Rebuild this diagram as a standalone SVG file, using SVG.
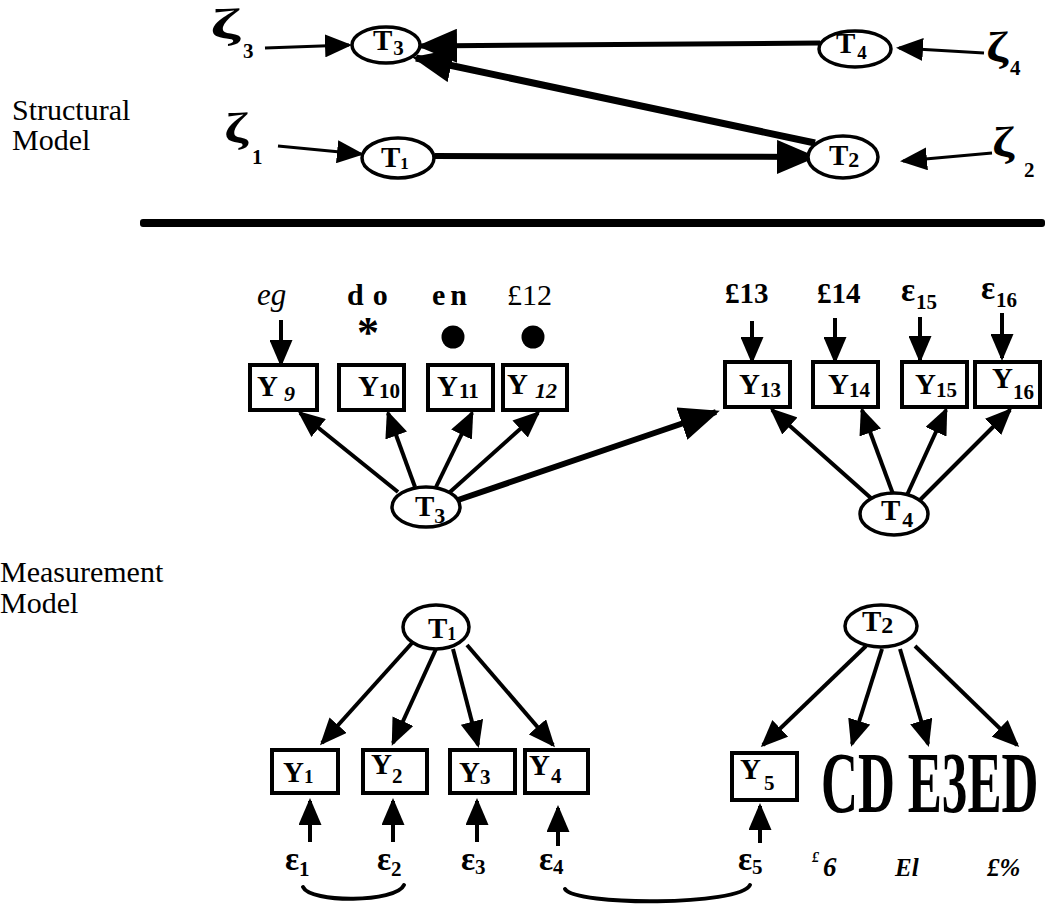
<svg xmlns="http://www.w3.org/2000/svg" width="1045" height="905" viewBox="0 0 1045 905">
  <defs>
    <style>
      .ser { font-family: "Liberation Serif", "Times New Roman", serif; fill: #000; }
      .b { font-weight: bold; }
      .i { font-style: italic; }
      .lbl { font-size: 30px; }
      .node { fill: #fff; stroke: #000; stroke-width: 3.5; }
      .box { fill: #fff; stroke: #000; stroke-width: 4; }
      .ln { fill: none; stroke: #000; stroke-width: 4; }
      .thin { fill: none; stroke: #000; stroke-width: 3; }
      .thick { fill: none; stroke: #000; stroke-width: 6; }
      .cv { fill: none; stroke: #000; stroke-width: 4; stroke-linecap: round; }
      .nm { font-size: 29px; font-weight: bold; }
      .sub { font-size: 21px; font-weight: bold; }
      .eps { font-size: 33px; font-weight: bold; }
      .zeta { font-size: 42px; font-weight: bold; }
    </style>
    <marker id="ah" markerUnits="userSpaceOnUse" markerWidth="27" markerHeight="23" viewBox="0 0 27 23" refX="24" refY="11.5" orient="auto">
      <path d="M0,0 L27,11.5 L0,23 z" fill="#000"/>
    </marker>
    <marker id="big" markerUnits="userSpaceOnUse" markerWidth="40" markerHeight="34" viewBox="0 0 40 34" refX="36" refY="17" orient="auto">
      <path d="M0,0 L40,17 L0,34 z" fill="#000"/>
    </marker>
  </defs>
  <rect width="1045" height="905" fill="#fff"/>

  <!-- section captions -->
  <g id="captions" class="ser lbl">
    <text x="12" y="120">Structural</text>
    <text x="12" y="150">Model</text>
    <text x="0" y="582">Measurement</text>
    <text x="0" y="613">Model</text>
  </g>

  <!-- divider between structural and measurement parts -->
  <rect id="divider" x="140" y="219" width="905" height="8" rx="3" fill="#000"/>

  <!-- connectors -->
  <g id="connectors">
    <!-- structural model -->
    <line class="thin" x1="265" y1="48" x2="349" y2="45" marker-end="url(#ah)"/>
    <line class="thin" x1="278" y1="146" x2="361" y2="154" marker-end="url(#ah)"/>
    <line class="thin" x1="984" y1="53" x2="899" y2="48" marker-end="url(#ah)"/>
    <line class="thin" x1="992" y1="153" x2="903" y2="161" marker-end="url(#ah)"/>
    <line class="ln" x1="820" y1="43" x2="421" y2="46" style="stroke-width:5" marker-end="url(#big)"/>
    <line class="thick" x1="815" y1="143" x2="416" y2="58" style="stroke-width:7" marker-end="url(#big)"/>
    <line class="thick" x1="435" y1="156" x2="813" y2="157" marker-end="url(#big)"/>

    <!-- T3 / T4 indicators -->
    <line class="ln" x1="281" y1="320" x2="281" y2="364" marker-end="url(#ah)"/>
    <line class="ln" x1="752" y1="321" x2="752" y2="361" marker-end="url(#ah)"/>
    <line class="ln" x1="835" y1="318" x2="835" y2="361" marker-end="url(#ah)"/>
    <line class="ln" x1="920" y1="317" x2="920" y2="360" marker-end="url(#ah)"/>
    <line class="ln" x1="1002" y1="313" x2="1002" y2="358" marker-end="url(#ah)"/>
    <line class="ln" x1="398" y1="492" x2="300" y2="413" marker-end="url(#ah)"/>
    <line class="ln" x1="415" y1="487" x2="388" y2="413" marker-end="url(#ah)"/>
    <line class="ln" x1="436" y1="487" x2="472" y2="413" marker-end="url(#ah)"/>
    <line class="ln" x1="450" y1="492" x2="538" y2="413" marker-end="url(#ah)"/>
    <line class="thick" x1="458" y1="500" x2="716" y2="412" marker-end="url(#big)"/>
    <line class="ln" x1="872" y1="499" x2="772" y2="410" marker-end="url(#ah)"/>
    <line class="ln" x1="893" y1="494" x2="862" y2="410" marker-end="url(#ah)"/>
    <line class="ln" x1="907" y1="495" x2="946" y2="410" marker-end="url(#ah)"/>
    <line class="ln" x1="920" y1="500" x2="1010" y2="410" marker-end="url(#ah)"/>

    <!-- T1 / T2 indicators -->
    <line class="ln" x1="412" y1="643" x2="322" y2="743" marker-end="url(#ah)"/>
    <line class="ln" x1="436" y1="649" x2="393" y2="743" marker-end="url(#ah)"/>
    <line class="ln" x1="453" y1="649" x2="478" y2="745" marker-end="url(#ah)"/>
    <line class="ln" x1="467" y1="645" x2="553" y2="745" marker-end="url(#ah)"/>
    <line class="ln" x1="866" y1="646" x2="763" y2="745" marker-end="url(#ah)"/>
    <line class="ln" x1="882" y1="649" x2="852" y2="744" marker-end="url(#ah)"/>
    <line class="ln" x1="900" y1="649" x2="928" y2="744" marker-end="url(#ah)"/>
    <line class="ln" x1="915" y1="646" x2="1017" y2="745" marker-end="url(#ah)"/>

    <!-- error terms -->
    <line class="ln" x1="310" y1="842" x2="310" y2="801" marker-end="url(#ah)"/>
    <line class="ln" x1="393" y1="842" x2="393" y2="801" marker-end="url(#ah)"/>
    <line class="ln" x1="477" y1="842" x2="477" y2="801" marker-end="url(#ah)"/>
    <line class="ln" x1="558" y1="846" x2="558" y2="808" marker-end="url(#ah)"/>
    <line class="ln" x1="760" y1="843" x2="760" y2="806" marker-end="url(#ah)"/>

    <!-- correlated errors -->
    <path class="cv" d="M303,887 C310,903 396,903 404,885"/>
    <path class="cv" d="M565,889 C575,906 740,906 750,885"/>
  </g>

  <!-- structural model nodes -->
  <g id="zeta3" class="ser"><text class="zeta" x="210" y="38" textLength="30" lengthAdjust="spacingAndGlyphs">ζ</text><text x="243" y="58" class="sub">3</text></g>
  <g id="zeta1" class="ser"><text class="zeta" x="224" y="142" textLength="24" lengthAdjust="spacingAndGlyphs">ζ</text><text x="252" y="164" class="sub">1</text></g>
  <g id="zeta4" class="ser"><text class="zeta" x="986" y="61" textLength="22" lengthAdjust="spacingAndGlyphs">ζ</text><text x="1010" y="75" class="sub">4</text></g>
  <g id="zeta2" class="ser"><text class="zeta" x="992" y="156" textLength="22" lengthAdjust="spacingAndGlyphs">ζ</text><text x="1024" y="177" class="sub">2</text></g>

  <g id="sT3"><ellipse class="node" cx="386" cy="45" rx="34" ry="18"/><text class="ser nm" x="373" y="50" font-size="24">T<tspan class="sub" dx="1" dy="5" font-size="18">3</tspan></text></g>
  <g id="sT4"><ellipse class="node" cx="855" cy="49" rx="36" ry="18"/><text class="ser nm" x="836" y="53" font-size="26">T<tspan dx="2" dy="6" font-size="19">4</tspan></text></g>
  <g id="sT1"><ellipse class="node" cx="398" cy="158" rx="36" ry="20"/><text class="ser nm" x="381" y="167" font-size="25">T<tspan dy="2" font-size="17">1</tspan></text></g>
  <g id="sT2"><ellipse class="node" cx="843" cy="157" rx="35" ry="21"/><text class="ser nm" x="829" y="165" font-size="24">T<tspan dy="2" font-size="22">2</tspan></text></g>

  <!-- measurement model: T3 and T4 -->
  <g id="e9"><text class="ser i" x="257" y="305" font-size="31">eg</text></g>
  <g id="e10"><text class="ser b" x="347" y="305" font-size="30" letter-spacing="9">do</text><text class="ser b" x="357" y="347" font-size="44">*</text></g>
  <g id="e11"><text class="ser b" x="432" y="305" font-size="30" letter-spacing="5">en</text><circle cx="453" cy="337" r="11.5" fill="#000"/></g>
  <g id="e12"><text class="ser" x="507" y="305" font-size="30">£12</text><circle cx="533" cy="337" r="11.5" fill="#000"/></g>
  <g id="e13"><text class="ser b" x="725" y="303" font-size="29">£13</text></g>
  <g id="e14"><text class="ser b" x="817" y="303" font-size="29">£14</text></g>
  <g id="e15"><text class="ser eps" x="901" y="301">ε<tspan class="sub" dx="1" dy="8" font-size="23">15</tspan></text></g>
  <g id="e16"><text class="ser eps" x="981" y="299">ε<tspan class="sub" dx="1" dy="8" font-size="23">16</tspan></text></g>

  <g id="Y9"><rect class="box" x="250" y="365" width="67" height="45"/><text class="ser nm" x="257" y="396">Y<tspan class="i" dx="6" dy="5" font-size="22">9</tspan></text></g>
  <g id="Y10"><rect class="box" x="339" y="365" width="65" height="45"/><text class="ser nm" x="358" y="396">Y<tspan class="sub" dy="2">10</tspan></text></g>
  <g id="Y11"><rect class="box" x="428" y="365" width="65" height="45"/><text class="ser nm" x="437" y="396">Y<tspan class="sub" dx="1" dy="2">11</tspan></text></g>
  <g id="Y12"><rect class="box" x="503" y="365" width="64" height="45"/><text class="ser nm" x="507" y="394">Y<tspan class="i" dx="7" dy="4" font-size="22">12</tspan></text></g>
  <g id="Y13"><rect class="box" x="725" y="362" width="65" height="45"/><text class="ser nm" x="739" y="394">Y<tspan class="sub" dy="3">13</tspan></text></g>
  <g id="Y14"><rect class="box" x="813" y="362" width="65" height="45"/><text class="ser nm" x="828" y="394">Y<tspan class="sub" dy="3">14</tspan></text></g>
  <g id="Y15"><rect class="box" x="902" y="362" width="65" height="45"/><text class="ser nm" x="915" y="394">Y<tspan class="sub" dy="3">15</tspan></text></g>
  <g id="Y16"><rect class="box" x="975" y="362" width="65" height="45"/><text class="ser nm" x="992" y="388">Y<tspan class="sub" dy="11">16</tspan></text></g>

  <g id="mT3"><ellipse class="node" cx="426" cy="507" rx="34" ry="20"/><text class="ser nm" x="415" y="516" font-size="28">T<tspan dy="7" font-size="22">3</tspan></text></g>
  <g id="mT4"><ellipse class="node" cx="894" cy="514" rx="34" ry="21"/><text class="ser nm" x="881" y="520" font-size="28">T<tspan dx="2" dy="7" font-size="22">4</tspan></text></g>

  <!-- measurement model: T1 and T2 -->
  <g id="mT1"><ellipse class="node" cx="436" cy="627" rx="33" ry="22"/><text class="ser nm" x="428" y="638" font-size="26">T<tspan dy="2" font-size="18">1</tspan></text></g>
  <g id="mT2"><ellipse class="node" cx="881" cy="626" rx="36" ry="21"/><text class="ser nm" x="862" y="631" font-size="25">T<tspan dy="2" font-size="24">2</tspan></text></g>

  <g id="Y1"><rect class="box" x="272" y="750" width="66" height="43"/><text class="ser nm" x="283" y="782">Y<tspan dy="1" font-size="19">1</tspan></text></g>
  <g id="Y2"><rect class="box" x="363" y="750" width="64" height="43"/><text class="ser nm" x="371" y="774">Y<tspan class="sub" dy="9" font-size="24">2</tspan></text></g>
  <g id="Y3"><rect class="box" x="450" y="750" width="65" height="43"/><text class="ser nm" x="459" y="782">Y<tspan class="sub" dy="2" font-size="24">3</tspan></text></g>
  <g id="Y4"><rect class="box" x="525" y="750" width="63" height="43"/><text class="ser nm" x="529" y="775">Y<tspan class="sub" dx="1" dy="8">4</tspan></text></g>
  <g id="Y5"><rect class="box" x="732" y="753" width="65" height="47"/><text class="ser nm" x="740" y="779" font-size="25">Y<tspan class="sub" dx="3" dy="11">5</tspan></text></g>
  <!-- condensed heavy label row, squeezed horizontally -->
  <g id="Y6to8"><text class="ser b" font-size="86" transform="translate(821,812) scale(0.595,1)">CD E3ED</text></g>

  <g id="eps1"><text class="ser eps" x="285" y="870">ε<tspan class="sub" dy="6" font-size="25">1</tspan></text></g>
  <g id="eps2"><text class="ser eps" x="377" y="870">ε<tspan class="sub" dy="6" font-size="25">2</tspan></text></g>
  <g id="eps3"><text class="ser eps" x="461" y="870">ε<tspan class="sub" dy="4" font-size="25">3</tspan></text></g>
  <g id="eps4"><text class="ser eps" x="539" y="870">ε<tspan class="sub" dy="4" font-size="23">4</tspan></text></g>
  <g id="eps5"><text class="ser eps" x="738" y="870">ε<tspan class="sub" dy="4" font-size="25">5</tspan></text></g>
  <g id="eps6"><text class="ser b i" x="812" y="862" font-size="14">£</text><text class="ser b i" x="823" y="876" font-size="27">6</text></g>
  <g id="eps7"><text class="ser b i" x="895" y="876" font-size="25">El</text></g>
  <g id="eps8"><text class="ser b i" x="987" y="876" font-size="25">£%</text></g>
</svg>
